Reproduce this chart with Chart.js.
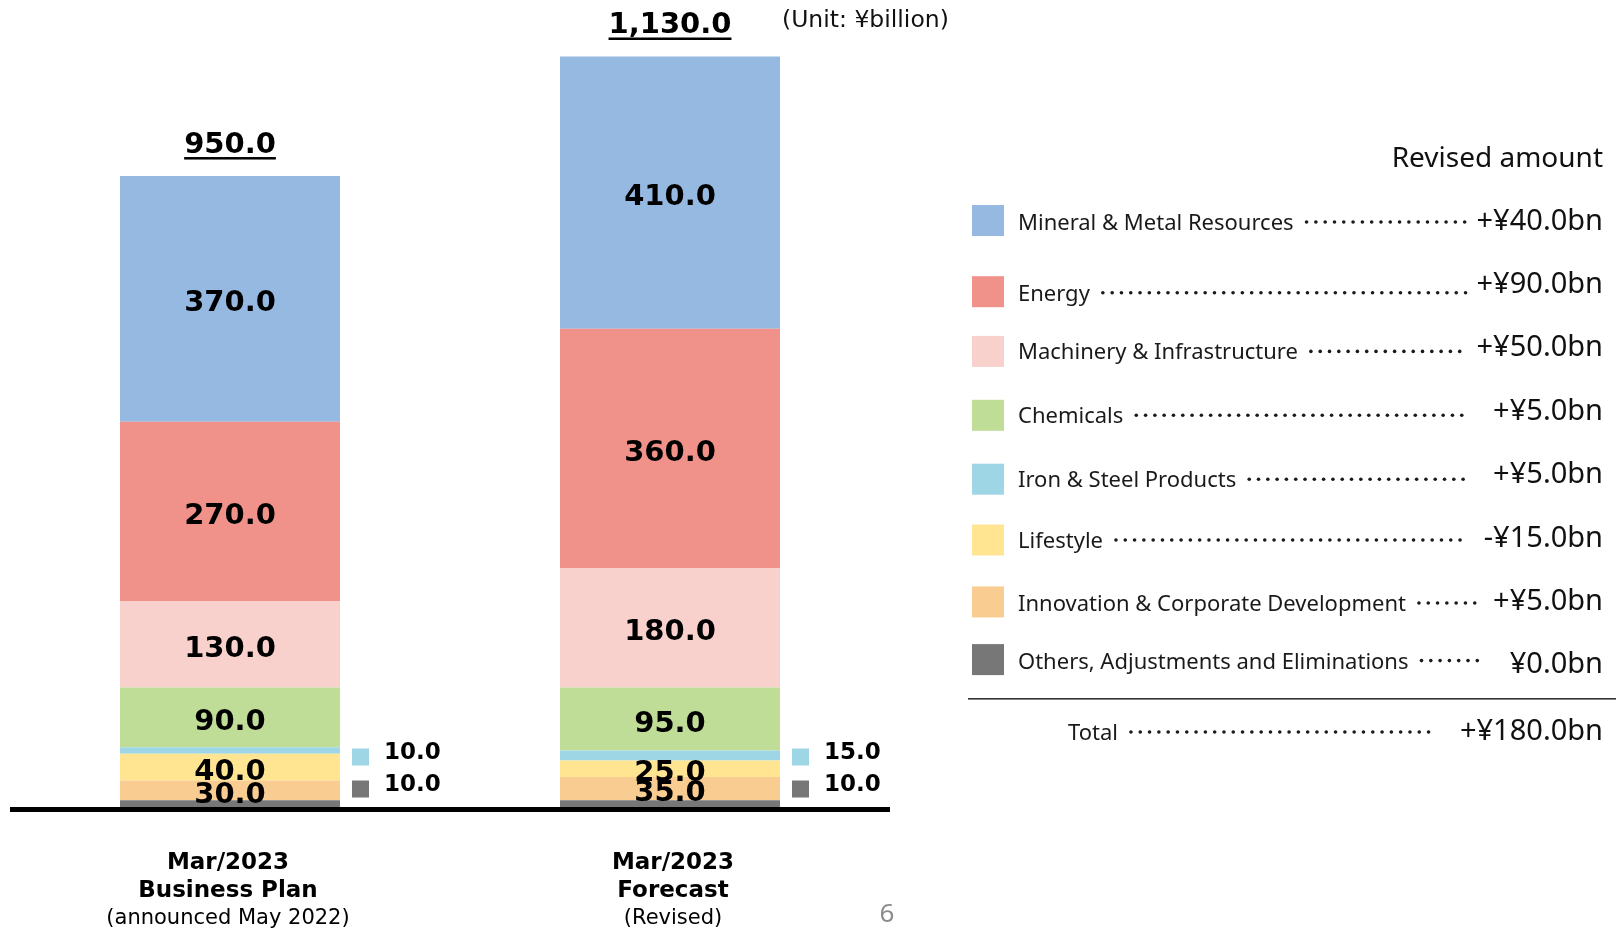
<!DOCTYPE html>
<html>
<head>
<meta charset="utf-8">
<script src="https://cdn.jsdelivr.net/npm/chart.js@4.4.1/dist/chart.umd.min.js"></script>
<style>
  html, body { margin: 0; padding: 0; background: #ffffff; }
  #wrap { position: relative; width: 1616px; height: 928px; }
  canvas { display: block; }
</style>
</head>
<body>
<div id="wrap"><canvas id="c" width="1616" height="928"></canvas></div>
<script>
// ---- Data (¥billion) ----
const categories = [
  ["Mar/2023", "Business Plan", "(announced May 2022)"],
  ["Mar/2023", "Forecast", "(Revised)"]
];
const segmentNames = [
  "Mineral & Metal Resources",
  "Energy",
  "Machinery & Infrastructure",
  "Chemicals",
  "Iron & Steel Products",
  "Lifestyle",
  "Innovation & Corporate Development",
  "Others, Adjustments and Eliminations"
];
const mineralMetal   = [370, 410];
const energy         = [270, 360];
const machinery      = [130, 180];
const chemicals      = [90, 95];
const ironSteel      = [10, 15];
const lifestyle      = [40, 25];
const innovation     = [30, 35];
const others         = [10, 10];
const revisedAmounts = ["+¥40.0bn", "+¥90.0bn", "+¥50.0bn", "+¥5.0bn", "+¥5.0bn", "-¥15.0bn", "+¥5.0bn", "¥0.0bn"];
const totalLabel     = "Total";
const totalRevised   = "+¥180.0bn";
const unitLabel      = "(Unit: ¥billion)";
const headerLabel    = "Revised amount";
const pageNumber     = "6";

// ---- Styles ----
const colors = ["#96B9E1", "#F0918A", "#F8D1CD", "#C0DD97", "#9ED6E6", "#FFE591", "#F9CD92", "#777777"];
const seriesValues = [mineralMetal, energy, machinery, chemicals, ironSteel, lifestyle, innovation, others];
const outsideLabeled = ["Iron & Steel Products", "Others, Adjustments and Eliminations"];

// stack bottom -> top
const stackOrder = [7, 6, 5, 4, 3, 2, 1, 0];
const datasets = stackOrder.map(i => ({
  label: segmentNames[i],
  data: seriesValues[i],
  backgroundColor: colors[i],
  borderWidth: 0,
  categoryPercentage: 0.5,
  barPercentage: 1.0
}));

const totals = categories.map((_, j) => seriesValues.reduce((s, arr) => s + arr[j], 0));
const fmt1 = v => v.toLocaleString("en-US", { minimumFractionDigits: 1, maximumFractionDigits: 1 });

const BAR_FONT = "bold 29px 'DejaVu Sans', Verdana, sans-serif";
const SIDE_FONT = "bold 23px 'DejaVu Sans', Verdana, sans-serif";
const LEG_FONT = "22px 'Noto Sans', sans-serif";
const VAL_FONT = "29px 'Noto Sans', sans-serif";

const overlay = {
  id: "overlay",
  afterDatasetsDraw(chart) {
    const ctx = chart.ctx;
    const area = chart.chartArea;
    ctx.save();
    // base line
    ctx.fillStyle = "#000";
    ctx.fillRect(area.left, area.bottom, area.right - area.left, 5);

    // segment labels
    chart.data.datasets.forEach((ds, di) => {
      const meta = chart.getDatasetMeta(di);
      const outside = outsideLabeled.indexOf(ds.label);
      meta.data.forEach((bar, j) => {
        const v = ds.data[j];
        if (outside < 0) {
          ctx.font = BAR_FONT;
          ctx.fillStyle = "#000";
          ctx.textAlign = "center";
          ctx.textBaseline = "middle";
          ctx.fillText(fmt1(v), bar.x, (bar.y + bar.base) / 2 + 5);
        } else {
          // small swatch + value next to bar
          const right = bar.x + bar.width / 2;
          const cy = area.bottom - (outside === 0 ? 50 : 18);
          ctx.fillStyle = ds.backgroundColor;
          ctx.fillRect(right + 12, cy - 8.5, 17, 17);
          ctx.font = SIDE_FONT;
          ctx.fillStyle = "#000";
          ctx.textAlign = "left";
          ctx.textBaseline = "middle";
          ctx.fillText(fmt1(v), right + 44, cy - 4);
        }
      });
    });

    // totals with underline
    const topMeta = chart.getDatasetMeta(chart.data.datasets.length - 1);
    topMeta.data.forEach((bar, j) => {
      const txt = fmt1(totals[j]);
      ctx.font = BAR_FONT;
      ctx.fillStyle = "#000";
      ctx.textAlign = "center";
      ctx.textBaseline = "alphabetic";
      const by = bar.y - 23;
      ctx.fillText(txt, bar.x, by);
      const w = ctx.measureText(txt).width;
      ctx.fillRect(bar.x - w / 2, by + 4, w, 2.5);
    });

    // category labels
    const xs = chart.scales.x;
    const labelShift = [-2, 3];
    categories.forEach((lines, j) => {
      const cx = xs.getPixelForValue(j) + labelShift[j];
      ctx.fillStyle = "#000";
      ctx.textAlign = "center";
      ctx.textBaseline = "alphabetic";
      ctx.font = "bold 23px 'DejaVu Sans', Verdana, sans-serif";
      ctx.fillText(lines[0], cx, 869);
      ctx.fillText(lines[1], cx, 897);
      ctx.font = "21px 'DejaVu Sans', Verdana, sans-serif";
      ctx.fillText(lines[2], cx, 924);
    });

    // unit
    ctx.font = "23.5px 'DejaVu Sans', Verdana, sans-serif";
    ctx.textAlign = "left";
    ctx.fillStyle = "#111";
    ctx.fillText(unitLabel, 782, 27);

    // page number
    ctx.font = "26px 'Noto Sans', sans-serif";
    ctx.fillStyle = "#8c8c8c";
    ctx.textAlign = "center";
    ctx.fillText(pageNumber, 887, 922);

    // ---- right panel legend ----
    const R = 1603;
    ctx.font = "28px 'Noto Sans', sans-serif";
    ctx.fillStyle = "#111";
    ctx.textAlign = "right";
    ctx.fillText(headerLabel, R, 167);

    const squareY = [220.5, 291.7, 351.4, 415.3, 479.2, 540, 601.9, 659.6];
    const labelBase = [230, 300.7, 359.4, 423.3, 487.2, 548, 611, 668.6];
    const valueBase = [229.5, 293.4, 356.3, 420.2, 483, 547, 609.8, 672.7];
    const drawDots = (x0, x1, y) => {
      ctx.fillStyle = "#1a1a1a";
      for (let x = x0; x <= x1; x += 9.3) {
        ctx.beginPath();
        ctx.arc(x, y, 1.8, 0, Math.PI * 2);
        ctx.fill();
      }
    };
    segmentNames.forEach((name, i) => {
      ctx.fillStyle = colors[i];
      ctx.fillRect(972, squareY[i] - 15.5, 32, 31);
      ctx.font = LEG_FONT;
      ctx.fillStyle = "#1a1a1a";
      ctx.textAlign = "left";
      ctx.textBaseline = "alphabetic";
      ctx.fillText(name, 1018, labelBase[i]);
      const end = 1018 + ctx.measureText(name).width;
      const dotEnd = Math.max(1469, end + 70);
      drawDots(end + 13, dotEnd, labelBase[i] - 8);
      ctx.font = VAL_FONT;
      ctx.fillStyle = "#111";
      ctx.textAlign = "right";
      ctx.fillText(revisedAmounts[i], R, valueBase[i]);
    });

    // separator
    ctx.fillStyle = "#333";
    ctx.fillRect(968, 698, 1616 - 968, 1.6);

    // total row
    ctx.font = LEG_FONT;
    ctx.fillStyle = "#1a1a1a";
    ctx.textAlign = "left";
    ctx.fillText(totalLabel, 1068, 740);
    const tEnd = 1068 + ctx.measureText(totalLabel).width;
    drawDots(tEnd + 13, 1434, 732);
    ctx.font = VAL_FONT;
    ctx.fillStyle = "#111";
    ctx.textAlign = "right";
    ctx.fillText(totalRevised, R, 740);

    ctx.restore();
  }
};

new Chart(document.getElementById("c"), {
  type: "bar",
  data: { labels: categories.map(c => c.join(" ")), datasets },
  options: {
    responsive: false,
    animation: false,
    layout: { padding: { left: 10, right: 726, top: 10, bottom: 121 } },
    plugins: { legend: { display: false }, tooltip: { enabled: false } },
    scales: {
      x: { stacked: true, display: false, offset: true },
      y: { stacked: true, display: false, min: 0, max: 1200 }
    }
  },
  plugins: [overlay]
});
</script>
</body>
</html>
